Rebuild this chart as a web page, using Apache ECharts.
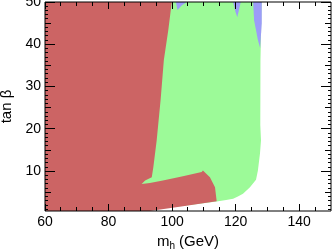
<!DOCTYPE html>
<html><head><meta charset="utf-8">
<script src="https://cdn.jsdelivr.net/npm/echarts@6/dist/echarts.min.js"></script>
<style>html,body{margin:0;padding:0;background:#fff}#c{width:332px;height:249px}</style>
</head><body><div id="c"></div>
<script>
// x axis: m_h (GeV), y axis: tan beta
const xMajorTicks = [60, 80, 100, 120, 140];
const xMinorTicks = [65, 70, 75, 85, 90, 95, 105, 110, 115, 125, 130, 135, 145];
const yMajorTicks = [10, 20, 30, 40, 50];
const yMidTicks = [5, 15, 25, 35, 45];
const ySmallTicks = [1,2,3,4,6,7,8,9,11,12,13,14,16,17,18,19,21,22,23,24,26,27,28,29,31,32,33,34,36,37,38,39,41,42,43,44,46,47,48,49];

// region boundaries: [m_h, tan beta]
const greenRegion = [[88,50],[128.2,50],[128.1,46.9],[127.8,36.3],[127.75,20.85],[127.97,17.3],[127.65,14.2],[127.0,10.2],[126.4,8.0],[125.45,7.1],[124.5,6.2],[122.3,4.7],[120.7,4.0],[119.2,3.5],[117.0,3.2],[114.0,2.85],[100,1.5],[88,1.5]];
const redRegion = [[60,0.6],[60,50],[99.9,50],[98.8,43.4],[97.4,36.3],[96.4,27],[95.15,17.3],[94.1,11.0],[93.6,8.6],[91.5,7.8],[90.4,7.0],[93.0,7.2],[97.1,7.8],[103.4,8.8],[109.3,9.8],[109.7,10.2],[111.9,8.6],[113.5,6.2],[114.0,3.1],[114.0,2.9],[103.4,1.7],[93.0,0.6]];
const blueRight = [[125.5,50],[125.8,45.7],[127.0,41.0],[127.7,39.1],[128.2,45],[128.2,50]];
const blueNotch = [[119.2,50],[119.9,47.8],[120.5,46.4],[121.0,48],[121.6,50]];
const bluePatch = [[101.2,50],[101.7,48.1],[103,49.2],[104.6,50]];

const xMin = 60, xMax = 150, yMin = 0.6, yMax = 50;
const frameCorners = [[xMin, yMin], [xMax, yMin], [xMax, yMax], [xMin, yMax], [xMin, yMin]];
const font = 'Liberation Sans, Arial, sans-serif';

function polySeries(pts, color) {
  return {
    type: 'custom', xAxisIndex: 0, yAxisIndex: 0, silent: true, z: 1,
    data: [0],
    renderItem: function (params, api) {
      return { type: 'polygon', shape: { points: pts.map(p => api.coord(p)) },
               style: { fill: color, stroke: null } };
    }
  };
}

// tick marks: thin filled bars positioned through the axis scales
const tickSeries = {
  type: 'custom', xAxisIndex: 0, yAxisIndex: 0, silent: true, z: 6, data: [0], clip: false,
  renderItem: function (params, api) {
    try {
      const bl = api.coord([xMin, yMin]);
      const tr = api.coord([xMax, yMax]);
      const L = Math.floor(bl[0]);
      const R = Math.floor(tr[0]) - 1;
      const B = Math.floor(bl[1]) - 1;
      const T = Math.floor(tr[1]);
      const els = [];
      function bar(x1, y1, x2, y2) {
        els.push({ type: 'rect', shape: { x: x1, y: y1, width: x2 - x1, height: y2 - y1 },
                   style: { fill: '#000' } });
      }
      function xt(vals, len) {
        vals.forEach(function (v) {
          const x = Math.floor(api.coord([v, yMin])[0]);
          bar(x, B + 1 - len, x + 1, B + 1);
          bar(x, T, x + 1, T + len);
        });
      }
      function yt(vals, len) {
        vals.forEach(function (v) {
          const y = Math.floor(api.coord([xMin, v])[1]);
          bar(L, y, L + len, y + 1);
          bar(R + 1 - len, y, R + 1, y + 1);
        });
      }
      xt(xMajorTicks, 7); xt(xMinorTicks, 4);
      yt(yMajorTicks, 10); yt(yMidTicks, 6); yt(ySmallTicks, 3);
      return { type: 'group', children: els };
    } catch (e) {
      return { type: 'text', x: 150, y: 100, style: { text: 'ERR ' + e.message, fill: '#000', fontSize: 10 } };
    }
  }
};

const option = {
  animation: false,
  backgroundColor: '#fff',
  grid: { left: 45, right: 1, top: 2, bottom: 38, containLabel: false, outerBoundsMode: 'none' },
  xAxis: {
    type: 'value', min: xMin, max: xMax,
    axisLine: { show: false }, axisTick: { show: false },
    axisLabel: { show: true, customValues: xMajorTicks, color: '#000', fontSize: 14, fontFamily: font, margin: 4 },
    splitLine: { show: false },
    name: '{a|m}{b|h}{a| (GeV)}', nameLocation: 'middle', nameGap: 22,
    nameTextStyle: { rich: { a: { fontSize: 15, fontFamily: font, color: '#000' }, b: { fontSize: 10, fontFamily: font, color: '#000', padding: [8, 0, 0, 0] } } }
  },
  yAxis: {
    type: 'value', min: yMin, max: yMax,
    axisLine: { show: false }, axisTick: { show: false },
    axisLabel: { show: true, customValues: yMajorTicks, color: '#000', fontSize: 14, fontFamily: font, margin: 4 },
    splitLine: { show: false },
    name: 'tan β', nameLocation: 'middle', nameGap: 26,
    nameTextStyle: { fontSize: 15, fontFamily: font, color: '#000' }
  },
  series: [
    polySeries(greenRegion, '#9cfa98'),
    polySeries(redRegion, '#cc6464'),
    polySeries(blueRight, '#9c9cf8'),
    polySeries(blueNotch, '#9c9cf8'),
    polySeries(bluePatch, '#9c9cf8'),
    { type: 'line', data: frameCorners, symbol: 'none', silent: true, z: 5, clip: false,
      lineStyle: { color: '#000', width: 1 } },
    tickSeries
  ]
};
const chart = echarts.init(document.getElementById('c'), null, { renderer: 'canvas' });
chart.setOption(option);
</script></body></html>
